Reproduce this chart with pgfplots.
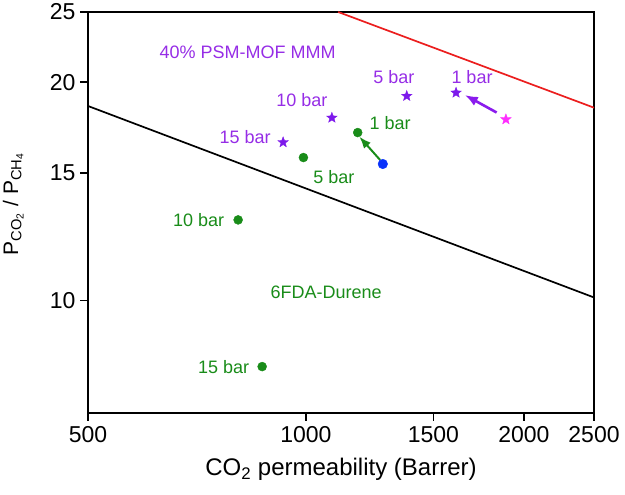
\documentclass[border=0pt]{standalone}
\usepackage{fontspec}
\setmainfont{Liberation Sans}
\usepackage{pgfplots}
\pgfplotsset{compat=1.18}
\usetikzlibrary{arrows.meta}
\definecolor{mmmtext}{RGB}{150,45,230}
\definecolor{mmmstar}{RGB}{125,25,235}
\definecolor{magstar}{RGB}{255,45,255}
\definecolor{dgreen}{RGB}{25,140,25}
\definecolor{dblue}{RGB}{10,50,250}
\definecolor{redline}{RGB}{235,30,30}
\pgfdeclareplotmark{fstar}{%
 \pgfpathmoveto{\pgfpointpolar{90}{\pgfplotmarksize}}%
 \pgfpathlineto{\pgfpointpolar{126}{0.42\pgfplotmarksize}}%
 \pgfpathlineto{\pgfpointpolar{162}{\pgfplotmarksize}}%
 \pgfpathlineto{\pgfpointpolar{198}{0.42\pgfplotmarksize}}%
 \pgfpathlineto{\pgfpointpolar{234}{\pgfplotmarksize}}%
 \pgfpathlineto{\pgfpointpolar{270}{0.42\pgfplotmarksize}}%
 \pgfpathlineto{\pgfpointpolar{306}{\pgfplotmarksize}}%
 \pgfpathlineto{\pgfpointpolar{342}{0.42\pgfplotmarksize}}%
 \pgfpathlineto{\pgfpointpolar{18}{\pgfplotmarksize}}%
 \pgfpathlineto{\pgfpointpolar{54}{0.42\pgfplotmarksize}}%
 \pgfpathclose
 \pgfusepathqfillstroke}
\begin{document}
\begin{tikzpicture}
\begin{axis}[
  at={(0pt,0pt)}, anchor=south west,
  scale only axis, width=506pt, height=401pt,
  xmode=log, ymode=log,
  xmin=500, xmax=2500, ymin=7, ymax=25,
  xtick={500,1000,1500,2000,2500},
  xticklabels={500,1000,1500,2000,2500},
  ytick={10,15,20,25},
  yticklabels={10,15,20,25},
  xminorticks=false, yminorticks=false,
  xtick pos=left, ytick pos=left,
  tick align=outside,
  major tick length=8pt,
  axis line style={line width=1.6pt},
  every tick/.style={black, line width=1.6pt},
  tick label style={font=\fontsize{23}{27}\selectfont},
  xticklabel style={yshift=-2pt},
  yticklabel style={xshift=-1pt},
  xlabel={CO\textsubscript{2} permeability (Barrer)},
  ylabel={P\textsubscript{CO\textsubscript{2}} / P\textsubscript{CH\textsubscript{4}}},
  xlabel style={at={(rel axis cs:0.5,-0.157)}, anchor=base, font=\fontsize{24}{28}\selectfont},
  ylabel style={at={(rel axis cs:-0.138,0.521)}, anchor=base, rotate=0, font=\fontsize{21}{25}\selectfont},
  clip=true,
]
% upper bound lines
\addplot[black, line width=1.7pt] coordinates {(500,18.55) (2500,10.10)};
\addplot[redline, line width=1.7pt] coordinates {(1108,25) (2500,18.45)};
% arrows
\addplot[mmmstar!90!magstar, line width=2.6pt, -{Latex[length=13pt,width=10pt]}] coordinates {(1834,18.17) (1658,19.21)};
\addplot[dgreen, line width=2pt, -{Latex[length=12pt,width=9pt]}] coordinates {(1266,15.63) (1185,16.83)};
% MMM stars
\addplot[only marks, mark=fstar, mark size=5.5pt, color=mmmstar] coordinates {
 (930,16.53) (1086,17.87) (1378,19.15) (1612,19.35)};
\addplot[only marks, mark=fstar, mark size=5.5pt, color=magstar] coordinates {(1889,17.78)};
% 6FDA-Durene circles
\addplot[only marks, mark=*, mark size=4.5pt, color=dgreen] coordinates {
 (1179,17.05) (992,15.75) (806,12.92) (870,8.11)};
\addplot[only marks, mark=*, mark size=4.8pt, color=dblue] coordinates {(1277,15.43)};
% labels
\begin{scope}[every node/.style={font=\fontsize{18}{21}\selectfont}]
\node[text=mmmtext] at (axis cs:831,21.98) {40\% PSM-MOF MMM};
\node[text=mmmtext] at (axis cs:987,18.90) {10 bar};
\node[text=mmmtext] at (axis cs:824,16.83) {15 bar};
\node[text=mmmtext] at (axis cs:1323,20.36) {5 bar};
\node[text=mmmtext] at (axis cs:1696,20.32) {1 bar};
\node[text=dgreen] at (axis cs:1307,17.55) {1 bar};
\node[text=dgreen] at (axis cs:1093,14.80) {5 bar};
\node[text=dgreen] at (axis cs:711,12.92) {10 bar};
\node[text=dgreen] at (axis cs:770,8.10) {15 bar};
\node[text=dgreen] at (axis cs:1066,10.26) {6FDA-Durene};
\end{scope}
\end{axis}
\pgfresetboundingbox
\path (-88pt,-82pt) rectangle (537pt,413pt);
\end{tikzpicture}
\end{document}
